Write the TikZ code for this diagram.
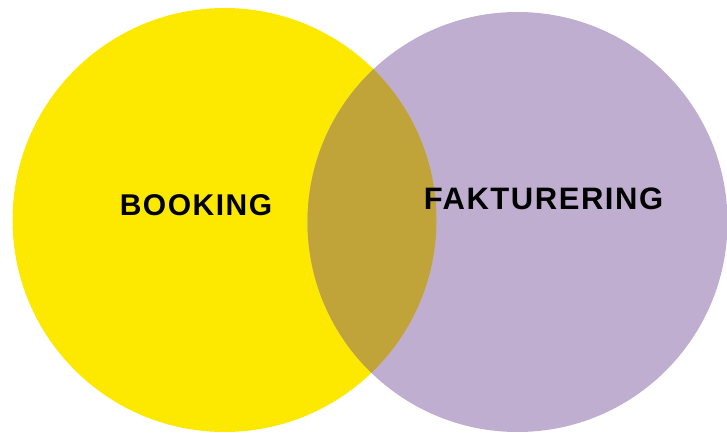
\documentclass[tikz,border=0pt]{standalone}
\usepackage{fontspec}
\setmainfont{Liberation Sans}
\newfontfamily\labelfont[LetterSpace=5]{Liberation Sans}
\definecolor{bkyellow}{RGB}{253,233,0}
\definecolor{fkpurple}{RGB}{191,174,208}
\definecolor{ovolive}{RGB}{192,164,58}
\tikzset{
  setlabel/.style={anchor=base, inner sep=0pt, font=\labelfont\bfseries\fontsize{30}{30}\selectfont, text=black}
}
\begin{document}
\begin{tikzpicture}[x=1pt,y=-1pt]
\useasboundingbox (0,0) rectangle (727,434);
\clip (0,0) rectangle (727,434);
\fill[bkyellow] (224.5,220) circle[radius=212];
\fill[fkpurple] (517.5,222) circle[radius=210];
\begin{scope}
  \clip (224.5,220) circle[radius=212];
  \fill[ovolive] (517.5,222) circle[radius=210];
\end{scope}
\node[setlabel] (booking) at (196,215) {BOOKING};
\node[setlabel, font=\labelfont\bfseries\fontsize{31}{31}\selectfont] (fakt) at (543.5,209) {FAKTURERING};
\end{tikzpicture}
\end{document}
